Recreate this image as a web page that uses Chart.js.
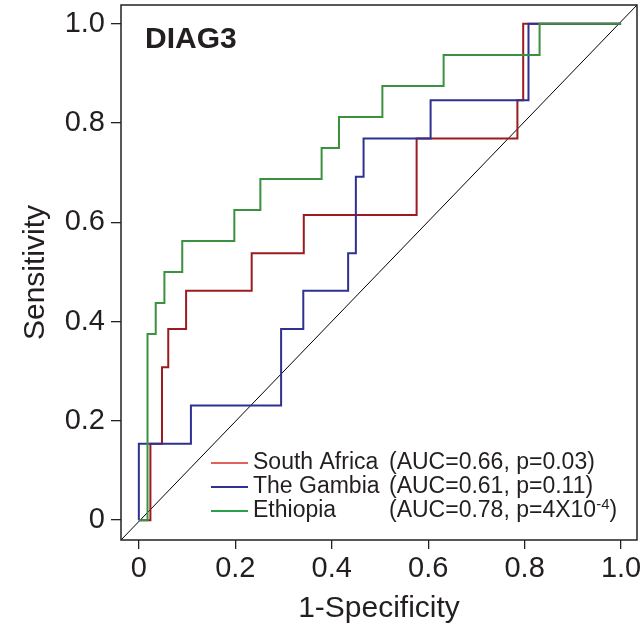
<!DOCTYPE html>
<html>
<head>
<meta charset="utf-8">
<script src="https://cdn.jsdelivr.net/npm/chart.js@4/dist/chart.umd.min.js"></script>
<style>
  html, body { margin: 0; padding: 0; background: #fff; }
  #wrap { width: 643px; height: 628px; position: relative; }
</style>
</head>
<body>
<div id="wrap"><canvas id="roc"></canvas></div>
<script>
// ROC corner points (top of every vertical jump), drawn with stepped lines
const southAfricaX = [0, 0.024, 0.048, 0.061, 0.098, 0.234, 0.342, 0.576, 0.785, 0.797, 1.0];
const southAfricaY = [0, 0.154, 0.308, 0.385, 0.462, 0.538, 0.615, 0.769, 0.846, 1.0, 1.0];

const gambiaX = [0, 0, 0.108, 0.295, 0.341, 0.434, 0.450, 0.466, 0.605, 0.808, 1.0];
const gambiaY = [0, 0.154, 0.231, 0.385, 0.462, 0.538, 0.692, 0.769, 0.846, 1.0, 1.0];

const ethiopiaX = [0, 0.018, 0.035, 0.053, 0.090, 0.198, 0.252, 0.379, 0.415, 0.505, 0.632, 0.831, 1.0];
const ethiopiaY = [0, 0.375, 0.4375, 0.5, 0.5625, 0.625, 0.6875, 0.75, 0.8125, 0.875, 0.9375, 1.0, 1.0];

const seriesNames = ["South Africa", "The Gambia", "Ethiopia"];
const seriesStats = ["(AUC=0.66, p=0.03)", "(AUC=0.61, p=0.11)", "(AUC=0.78, p=4X10"];

const tickValues = [0, 0.2, 0.4, 0.6, 0.8, 1.0];
const tickLabels = ["0", "0.2", "0.4", "0.6", "0.8", "1.0"];

const X_MIN = -0.037, X_MAX = 1.033;
const Y_MIN = -0.04, Y_MAX = 1.038;

const FONT = "'Liberation Sans', Arial, Helvetica, sans-serif";

function toPoints (xs, ys) {
  return xs.map((x, i) => ({ x: x, y: ys[i] }));
}

function fixedTicks (scale) {
  scale.ticks = tickValues.map(v => ({ value: v }));
}

// let the layout padding alone decide where the plot box goes
function noLabelPadding (scale) {
  scale.paddingTop = 0;
  scale.paddingBottom = 0;
  scale.paddingLeft = 0;
  scale.paddingRight = 0;
}

// box, panel label and legend block
const decorations = {
  id: "decorations",
  afterDraw (chart) {
    let ctx = chart.ctx;
    let a   = chart.chartArea;

    ctx.save();
    ctx.strokeStyle = "#222";
    ctx.lineWidth = 1.5;
    ctx.strokeRect(a.left, a.top, a.right - a.left, a.bottom - a.top);

    ctx.fillStyle = "#231f20";
    ctx.font = `bold 30px ${FONT}`;
    ctx.textBaseline = "middle";
    ctx.fillText("DIAG3", 145, 40);

    let legendColors = ["#e0605a", "#2e3192", "#2aa04a"];
    let rowY = [463, 487, 511];
    seriesNames.forEach((name, i) => {
      ctx.strokeStyle = legendColors[i];
      ctx.lineWidth = 2;
      ctx.beginPath();
      ctx.moveTo(211, rowY[i]);
      ctx.lineTo(248, rowY[i]);
      ctx.stroke();

      ctx.fillStyle = "#231f20";
      ctx.font = `23px ${FONT}`;
      ctx.fillText(name, 253, rowY[i]);
      ctx.fillText(seriesStats[i], 389, rowY[i]);

      if (i === 2) {
        let w = ctx.measureText(seriesStats[i]).width;
        ctx.font = `15px ${FONT}`;
        ctx.fillText("-4", 389 + w, rowY[i] - 6);
        let w2 = ctx.measureText("-4").width;
        ctx.font = `23px ${FONT}`;
        ctx.fillText(")", 389 + w + w2, rowY[i]);
      }
    });
    ctx.restore();
  }
};

let ctx = document.getElementById("roc");
let chart = new Chart(ctx, {
  type: "line",
  data: {
    datasets: [
      {
        label: "diagonal",
        data: toPoints([X_MIN, X_MAX], [Y_MIN, Y_MAX]),
        borderColor: "#000",
        borderWidth: 1,
        pointRadius: 0,
        order: 4
      },
      {
        label: seriesNames[0],
        data: toPoints(southAfricaX, southAfricaY),
        borderColor: "#9b1c20",
        borderWidth: 2,
        pointRadius: 0,
        stepped: "before",
        order: 3
      },
      {
        label: seriesNames[1],
        data: toPoints(gambiaX, gambiaY),
        borderColor: "#2e3192",
        borderWidth: 2,
        pointRadius: 0,
        stepped: "before",
        order: 2
      },
      {
        label: seriesNames[2],
        data: toPoints(ethiopiaX, ethiopiaY),
        borderColor: "#3a913f",
        borderWidth: 2,
        pointRadius: 0,
        stepped: "before",
        order: 1
      }
    ]
  },
  options: {
    responsive: true,
    maintainAspectRatio: false,
    animation: false,
    layout: { padding: { top: 5, right: 6, left: 0, bottom: 0 } },
    plugins: {
      legend: { display: false },
      tooltip: { enabled: false }
    },
    scales: {
      x: {
        type: "linear",
        min: X_MIN,
        max: X_MAX,
        afterBuildTicks: fixedTicks,
        afterFit: (scale) => { scale.height = 88; noLabelPadding(scale); },
        border: { display: false },
        grid: {
          drawOnChartArea: false,
          drawTicks: true,
          tickLength: 9,
          color: "#222",
          lineWidth: 1.3
        },
        ticks: {
          color: "#231f20",
          font: { family: FONT, size: 29 },
          padding: 3,
          maxRotation: 0,
          callback: (value, index) => tickLabels[index]
        },
        title: {
          display: true,
          text: "1-Specificity",
          color: "#231f20",
          font: { family: FONT, size: 30 },
          padding: { top: 0, bottom: 1 }
        }
      },
      y: {
        type: "linear",
        min: Y_MIN,
        max: Y_MAX,
        afterBuildTicks: fixedTicks,
        afterFit: (scale) => { scale.width = 121; noLabelPadding(scale); },
        border: { display: false },
        grid: {
          drawOnChartArea: false,
          drawTicks: true,
          tickLength: 10,
          color: "#222",
          lineWidth: 1.3
        },
        ticks: {
          color: "#231f20",
          font: { family: FONT, size: 29 },
          padding: 6,
          callback: (value, index) => tickLabels[index]
        },
        title: {
          display: true,
          text: "Sensitivity",
          color: "#231f20",
          font: { family: FONT, size: 30 },
          padding: { top: 18, bottom: 0 }
        }
      }
    }
  },
  plugins: [decorations]
});
</script>
</body>
</html>
